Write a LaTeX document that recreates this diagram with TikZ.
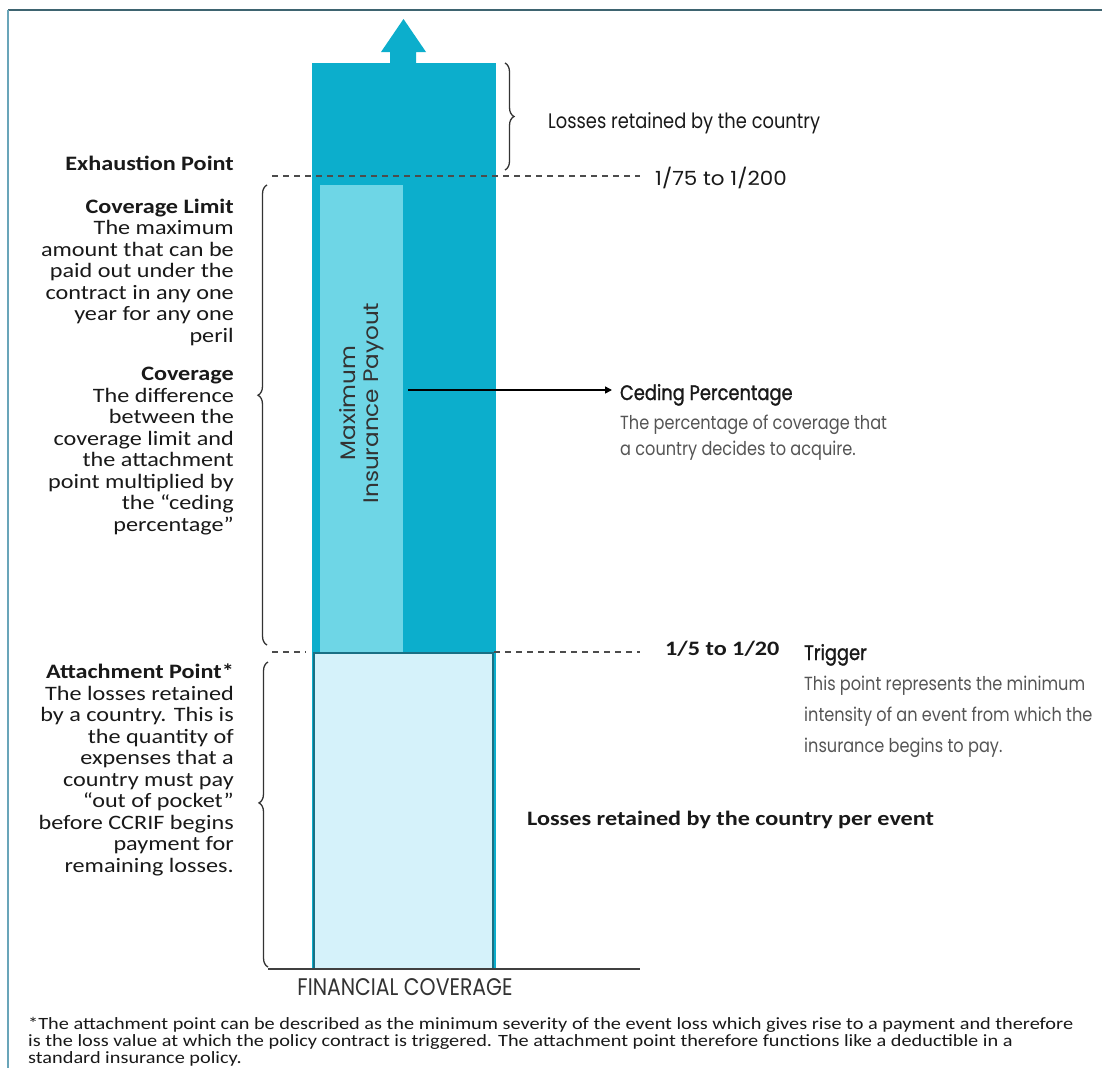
\documentclass[tikz,border=0pt]{standalone}
\usepackage{fontspec}
\setmainfont{Carlito}[FakeStretch=1.18]
\newfontfamily\fut{Poppins}[FakeStretch=0.85]
\newfontfamily\futm{Poppins}[FakeStretch=0.85, FakeBold=1.2]
\newfontfamily\futw{Poppins}[FakeStretch=1.1]
\usetikzlibrary{decorations.pathreplacing,arrows.meta}
\definecolor{barblue}{RGB}{12,174,204}
\definecolor{payblue}{RGB}{110,214,230}
\definecolor{lowfill}{RGB}{213,242,250}
\definecolor{lowedge}{RGB}{25,112,132}
\definecolor{frametop}{RGB}{62,100,112}
\definecolor{frameleft}{RGB}{105,165,185}
\definecolor{ink}{RGB}{25,25,25}
\definecolor{grayink}{RGB}{85,85,85}
\begin{document}
\begin{tikzpicture}[x=1pt,y=-1pt,
  txt/.style={inner sep=0pt, text=ink},
  lefttxt/.style={txt, align=right, anchor=base east, font=\fontsize{20.5}{21.5}\selectfont},
  futtxt/.style={txt, anchor=base west, font=\fut\fontsize{21}{26}\selectfont},
  headtxt/.style={txt, anchor=base west, font=\futm\fontsize{21}{26}\selectfont},
  desctxt/.style={txt, anchor=base west, align=left, text=grayink},
  boldtxt/.style={txt, anchor=base west, font=\bfseries\fontsize{20.5}{21.5}\selectfont},
  dashline/.style={draw=black!70, line width=2pt, dash pattern=on 6pt off 5pt},
  bracestyle/.style={draw=black!80, line width=1.3pt, decorate, decoration={brace, amplitude=9pt, aspect=#1}},
  boxstyle/.style={inner sep=0pt, anchor=north west}
]
\useasboundingbox (0,0) rectangle (1102,1068);
\fill[white] (0,0) rectangle (1102,1068);
\draw[frametop, line width=2pt] (8,10) -- (1102,10);
\draw[frameleft, line width=2pt] (8,10) -- (8,1068);

% bar and arrow
\node[boxstyle, fill=barblue, minimum width=184pt, minimum height=905pt] (bar) at (312,63) {};
\fill[barblue] (390,64) -- (390,52) -- (381,52) -- (403.5,19) -- (426,52) -- (416,52) -- (416,64) -- cycle;
\node[boxstyle, fill=payblue, minimum width=83pt, minimum height=467pt] (payout) at (320,185) {};
\node[boxstyle, fill=lowfill, draw=lowedge, line width=2pt, minimum width=179pt, minimum height=316pt] (lower) at (313,652) {};
\node[txt, rotate=90, align=center, font=\futw\fontsize{21}{23}\selectfont, text=black!80] (maxpay) at (362,403) {Maximum\\Insurance Payout};

% axis
\coordinate (axl) at (268,969);
\coordinate (axr) at (640,969);
\draw[black!75, line width=1.5pt] (axl) -- (axr);

% dashed levels
\coordinate (e1) at (272,176);
\coordinate (e2) at (640,176);
\draw[dashline] (e1) -- (e2);
\coordinate (t1) at (272,652);
\coordinate (t1b) at (306,652);
\coordinate (t2) at (640,652);
\draw[dashline] (t1) -- (t1b);
\draw[dashline] (lower.north east) -- (t2);

% braces
\draw[bracestyle=0.5] (505,63) -- (505,170);
\draw[bracestyle=0.543] (267,645) -- (267,185);
\draw[bracestyle=0.538] (268,967) -- (268,662);

% left texts (multi-line nodes: base = last line)
\node[lefttxt, font=\bfseries\fontsize{20.5}{21.5}\selectfont] (exh) at (234,170) {Exhaustion Point};
\node[lefttxt] (covlim) at (234,342) {\textbf{Coverage Limit}\\The maximum\\amount that can be\\paid out under the\\contract in any one\\year for any one\\peril};
\node[lefttxt] (cov) at (234,531) {\textbf{Coverage}\\The difference\\between the\\coverage limit and\\the attachment\\point multiplied by\\the “ceding\\percentage”};
\node[lefttxt] (att) at (234,872) {\textbf{Attachment Point*}\\The losses retained\\by a country. This is\\the quantity of\\expenses that a\\country must pay\\“out of pocket”\\before CCRIF begins\\payment for\\remaining losses.};

% right texts
\node[futtxt] (ret) at (548,128) {Losses retained by the country};
\node[txt, anchor=base west, font=\futw\fontsize{19.5}{24}\selectfont] (exhval) at (655,185) {1/75 to 1/200};
\node[headtxt, outer xsep=8pt] (ced) at (612,400) {Ceding Percentage};
\node[desctxt, font=\fut\fontsize{19}{26}\selectfont] (ceddesc) at (620,455) {The percentage of coverage that\\a country decides to acquire.};
\node[boldtxt] (trigval) at (665,655) {1/5 to 1/20};
\node[headtxt] (trig) at (804,660) {Trigger};
\node[desctxt, font=\fut\fontsize{19}{30.8}\selectfont] (trigdesc) at (804,752) {This point represents the minimum\\intensity of an event from which the\\insurance begins to pay.};
\node[boldtxt] (per) at (527,825) {Losses retained by the country per event};
\node[txt, anchor=base, font=\fut\fontsize{24}{26}\selectfont, text=black!80] (fin) at (405,995) {FINANCIAL COVERAGE};
\node[txt, anchor=base west, align=left, font=\fontsize{17.2}{17}\selectfont] (foot) at (28,1063) {*The attachment point can be described as the minimum severity of the event loss which gives rise to a payment and therefore\\is the loss value at which the policy contract is triggered. The attachment point therefore functions like a deductible in a\\standard insurance policy.};

% ceding arrow
\coordinate (arrs) at (408,390);
\draw[line width=1.5pt, -{Triangle[length=7pt,width=7pt]}] (arrs) -- (arrs -| ced.west);
\end{tikzpicture}
\end{document}
